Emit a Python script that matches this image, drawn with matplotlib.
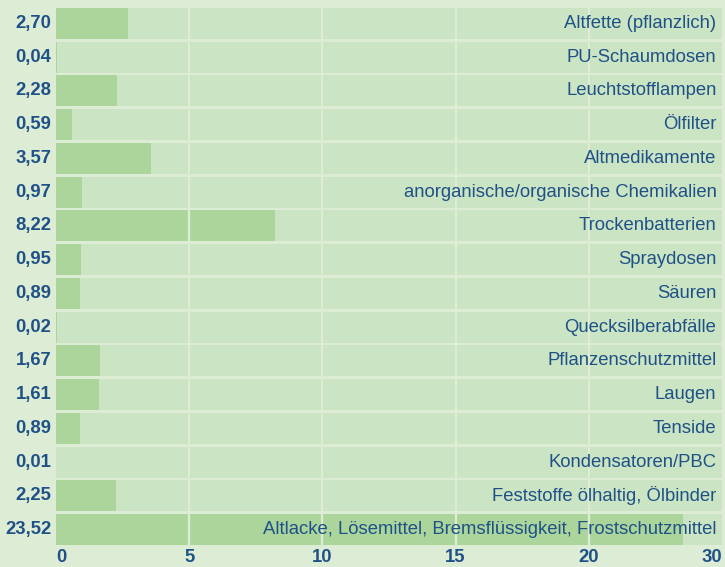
import numpy as np
import matplotlib.pyplot as plt

# waste categories, top to bottom
categories = ['Altfette (pflanzlich)', 'PU-Schaumdosen', 'Leuchtstofflampen', 'Ölfilter',
              'Altmedikamente', 'anorganische/organische Chemikalien', 'Trockenbatterien',
              'Spraydosen', 'Säuren', 'Quecksilberabfälle', 'Pflanzenschutzmittel',
              'Laugen', 'Tenside', 'Kondensatoren/PBC', 'Feststoffe ölhaltig, Ölbinder',
              'Altlacke, Lösemittel, Bremsflüssigkeit, Frostschutzmittel']
values = [2.70, 0.04, 2.28, 0.59, 3.57, 0.97, 8.22, 0.95, 0.89, 0.02, 1.67,
          1.61, 0.89, 0.01, 2.25, 23.52]

tick_pos = [0, 5, 10, 15, 20, 25]
tick_labels = ['0', '5', '10', '15', '20', '30']
x_max = 25

bg_col = '#dcecd5'
light_col = '#cbe4c3'
dark_col = '#acd59c'
text_col = '#1f5187'

plt.rcParams['font.family'] = ['Liberation Sans', 'DejaVu Sans']

fig = plt.figure(figsize=(7.25, 5.67), dpi=100)
fig.patch.set_facecolor(bg_col)
ax = fig.add_axes([56/725, 1 - 545/567, 666/725, 537/567])
ax.set_facecolor(bg_col)

y = np.arange(len(categories))
h = 0.92
ax.barh(y, [x_max]*len(y), height=h, color=light_col, zorder=1)
ax.barh(y, values, height=h, color=dark_col, zorder=1.5)

# grid lines on top of the bars
for gx in tick_pos[1:-1]:
    ax.axvline(gx, color=bg_col, linewidth=1.6, zorder=2)

for i in range(len(categories)):
    ax.annotate(categories[i], xy=(1, y[i]), xycoords=('axes fraction', 'data'),
                xytext=(-4, 0), textcoords='offset points', ha='right', va='center',
                fontsize=13.3, color=text_col, zorder=3)
    ax.annotate(f'{values[i]:.2f}'.replace('.', ','), xy=(0, y[i]),
                xycoords=('axes fraction', 'data'), xytext=(-3.5, 0),
                textcoords='offset points', ha='right', va='center',
                fontsize=13.3, fontweight='bold', color=text_col)

ax.set_xlim(0, x_max)
ax.set_ylim(len(y) - 1 + h/2, -h/2)
ax.set_yticks([])
ax.set_xticks(tick_pos)
ax.set_xticklabels(tick_labels, fontsize=13.3, fontweight='bold', color=text_col)
labs = ax.get_xticklabels()
labs[0].set_ha('left')
labs[-1].set_ha('right')
ax.tick_params(axis='x', length=0, pad=3)
for s in ax.spines.values():
    s.set_visible(False)

plt.savefig('out.png', dpi=100, facecolor=bg_col)
